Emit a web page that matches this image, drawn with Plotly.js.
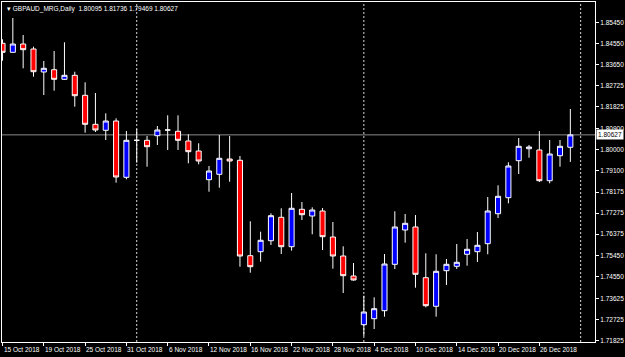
<!DOCTYPE html>
<html>
<head>
<meta charset="utf-8">
<script src="https://cdn.plot.ly/plotly-3.0.1.min.js"></script>
<style>
  html, body { margin: 0; padding: 0; background: #000; }
  #chart { width: 625px; height: 357px; }
</style>
</head>
<body>
<div id="chart"></div>
<script>
// ---- Data (GBPAUD_MRG, Daily) ----
const dates = [
  '2018-10-15','2018-10-16','2018-10-17','2018-10-18','2018-10-19',
  '2018-10-22','2018-10-23','2018-10-24','2018-10-25','2018-10-26',
  '2018-10-29','2018-10-30','2018-10-31',
  '2018-11-01','2018-11-02','2018-11-05','2018-11-06','2018-11-07',
  '2018-11-08','2018-11-09','2018-11-12','2018-11-13','2018-11-14',
  '2018-11-15','2018-11-16','2018-11-19','2018-11-20','2018-11-21',
  '2018-11-22','2018-11-23','2018-11-26','2018-11-27','2018-11-28',
  '2018-11-29','2018-11-30',
  '2018-12-03','2018-12-04','2018-12-05','2018-12-06','2018-12-07',
  '2018-12-10','2018-12-11','2018-12-12','2018-12-13','2018-12-14',
  '2018-12-17','2018-12-18','2018-12-19','2018-12-20','2018-12-21',
  '2018-12-24','2018-12-25','2018-12-26','2018-12-27','2018-12-28',
  '2018-12-31'
];
const opens = [
  1.84550,1.84165,1.84520,1.84306,1.83321,1.83419,1.83008,1.83179,1.82322,1.81080,
  1.80823,1.81221,1.78809,1.80394,1.80394,1.80591,1.80835,1.80780,1.80364,1.79936,
  1.78706,1.78937,1.79593,1.79537,1.75450,1.75621,1.76092,1.77095,1.75835,1.77438,
  1.77151,1.77365,1.76251,1.75437,1.74580,1.72493,1.72750,1.73093,1.75081,1.76551,
  1.76680,1.74507,1.73282,1.74807,1.74996,1.75510,1.75621,1.75964,1.77249,1.77935,
  1.79520,1.80034,1.79979,1.78663,1.79734,1.80095
];
const highs = [
  1.84722,1.85634,1.84906,1.84405,1.83792,1.84220,1.84593,1.83333,1.82879,1.82421,
  1.81551,1.81337,1.80793,1.80878,1.80578,1.81007,1.81465,1.81465,1.80651,1.80266,
  1.79293,1.80621,1.80578,1.79721,1.76924,1.76478,1.77266,1.77481,1.78136,1.77751,
  1.77523,1.77493,1.76894,1.75852,1.75137,1.73736,1.73667,1.75523,1.77352,1.77236,
  1.77194,1.75553,1.75510,1.75308,1.75951,1.76165,1.76465,1.77965,1.78466,1.79452,
  1.80493,1.80193,1.80793,1.80407,1.80407,1.81736
];
const lows = [
  1.83805,1.84147,1.83479,1.83119,1.82335,1.82519,1.82978,1.81834,1.80720,1.80750,
  1.80407,1.78578,1.78723,1.79434,1.79263,1.80193,1.79979,1.79979,1.79409,1.79366,
  1.78192,1.78363,1.78620,1.74978,1.74721,1.75193,1.75908,1.75523,1.75664,1.76979,
  1.76367,1.75694,1.74893,1.73852,1.74379,1.72009,1.72309,1.72836,1.74880,1.76007,
  1.74079,1.73239,1.72836,1.74194,1.74880,1.75021,1.75180,1.75510,1.77065,1.77695,
  1.78950,1.79649,1.78607,1.78552,1.79263,1.79469
];
const closes = [
  1.84165,1.84520,1.84276,1.83333,1.83479,1.83008,1.83179,1.82305,1.81080,1.80835,
  1.81221,1.78822,1.80394,1.80394,1.80120,1.80835,1.80835,1.80394,1.79906,1.79507,
  1.79079,1.79623,1.79507,1.75437,1.74978,1.76110,1.77164,1.75835,1.77481,1.77206,
  1.77408,1.76264,1.75437,1.74593,1.74409,1.73037,1.73179,1.75094,1.76680,1.76838,
  1.74653,1.73307,1.74781,1.75081,1.75167,1.75724,1.75895,1.77365,1.77995,1.79293,
  1.80137,1.80107,1.78663,1.79807,1.80137,1.80627
];

const xTickDates = ['2018-10-15','2018-10-19','2018-10-25','2018-10-31','2018-11-06','2018-11-12',
  '2018-11-16','2018-11-22','2018-11-28','2018-12-04','2018-12-10','2018-12-14','2018-12-20','2018-12-26'];
const xTickLabels = ['15 Oct 2018','19 Oct 2018','25 Oct 2018','31 Oct 2018','6 Nov 2018','12 Nov 2018',
  '16 Nov 2018','22 Nov 2018','28 Nov 2018','4 Dec 2018','10 Dec 2018','14 Dec 2018','20 Dec 2018','26 Dec 2018'];
const yTickLabels = ['1.85450','1.84550','1.83650','1.82725','1.81825','1.80900','1.80000','1.79100',
  '1.78175','1.77275','1.76375','1.75450','1.74550','1.73625','1.72725','1.71825'];
const separatorDates = ['2018-11-01','2018-12-03','2019-01-01'];
const symbolTitle = 'GBPAUD_MRG,Daily';

// ---- Build ----
const xIdx = dates.map((d, i) => i);
const idxOf = d => { const i = dates.findIndex(v => v >= d); return i < 0 ? dates.length : i; };
const last = dates.length - 1;
const lastClose = closes[last];
const fmt = v => v.toFixed(5);

const trace = {
  type: 'candlestick',
  x: xIdx, open: opens, high: highs, low: lows, close: closes,
  increasing: { line: { color: '#ffffff', width: 1 }, fillcolor: '#0000ff' },
  decreasing: { line: { color: '#ffffff', width: 1 }, fillcolor: '#ff0000' },
  whiskerwidth: 0,
  hoverinfo: 'none',
  showlegend: false
};

const shapes = separatorDates.map(d => ({
  type: 'line', xref: 'x', yref: 'paper', x0: idxOf(d), x1: idxOf(d), y0: 0, y1: 1,
  line: { color: '#d8d8d8', width: 1, dash: '2px,2px' }, layer: 'below'
}));
shapes.push({
  type: 'line', xref: 'paper', yref: 'y', x0: 0, x1: 1, y0: lastClose, y1: lastClose,
  line: { color: '#8a8a8a', width: 1 }, layer: 'below'
});

const font = { family: 'Liberation Sans, Arial, sans-serif', size: 6.5, color: '#ffffff' };

const xLabelAnnotations = xTickDates.map((d, i) => ({
  xref: 'x', yref: 'paper', x: idxOf(d), y: 0, xanchor: 'left', yanchor: 'top',
  xshift: -1, yshift: -2, text: xTickLabels[i], showarrow: false, font: font
}));

const layout = {
  width: 625, height: 357,
  margin: { l: 2, r: 30, t: 2, b: 15 },
  paper_bgcolor: '#000000', plot_bgcolor: '#000000',
  font: font,
  showlegend: false,
  xaxis: {
    range: [-0.05, 57.39],
    rangeslider: { visible: false },
    showgrid: false, zeroline: false,
    showline: true, linecolor: '#ffffff', linewidth: 1, mirror: true,
    tickmode: 'array',
    tickvals: xTickDates.map(idxOf),
    showticklabels: false,
    ticks: 'outside', ticklen: 3, tickcolor: '#ffffff', tickwidth: 1,
    fixedrange: true
  },
  yaxis: {
    side: 'right',
    range: [1.71752, 1.86320],
    showgrid: false, zeroline: false,
    showline: true, linecolor: '#ffffff', linewidth: 1, mirror: true,
    tickmode: 'array',
    tickvals: yTickLabels.map(Number),
    ticktext: yTickLabels,
    ticks: 'outside', ticklen: 3, tickcolor: '#ffffff', tickwidth: 1,
    tickfont: font, fixedrange: true
  },
  shapes: shapes,
  annotations: [
    {
      xref: 'paper', yref: 'paper', x: 0, y: 1, xanchor: 'left', yanchor: 'top',
      xshift: 3, yshift: -1,
      text: '\u25BE ' + symbolTitle + '  ' + [opens[last], highs[last], lows[last], closes[last]].map(fmt).join(' '),
      showarrow: false, font: font
    },
    {
      xref: 'paper', yref: 'y', x: 1, y: lastClose, xanchor: 'left', yanchor: 'middle',
      xshift: 1,
      text: fmt(lastClose), showarrow: false,
      bgcolor: '#ffffff', borderpad: 1,
      font: { family: font.family, size: 6.5, color: '#000000' }
    }
  ].concat(xLabelAnnotations)
};

Plotly.newPlot('chart', [trace], layout, { displayModeBar: false, staticPlot: true });
</script>
</body>
</html>
